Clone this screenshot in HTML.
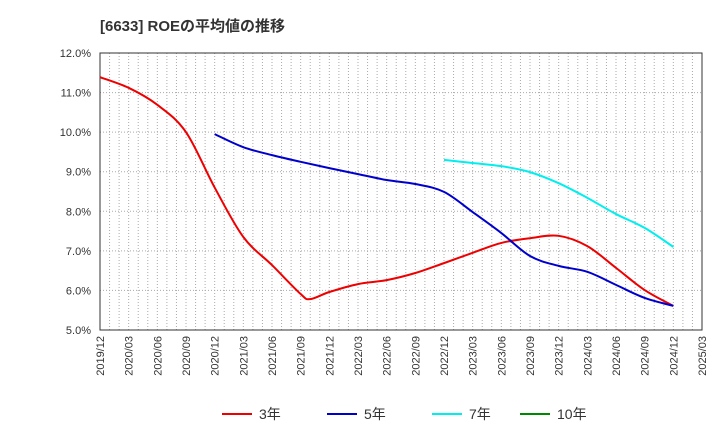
<!DOCTYPE html>
<html><head><meta charset="utf-8"><style>
body{margin:0;background:#fff;font-family:"Liberation Sans","Noto Sans CJK JP",sans-serif;}
</style></head><body>
<svg id="c" width="720" height="440" xmlns="http://www.w3.org/2000/svg">
<text x="100" y="31" font-size="15" font-weight="bold" fill="#333" font-family="Liberation Sans, Noto Sans CJK JP, sans-serif">[6633]  ROEの平均値の推移</text>
<g id="grid"></g><g id="axes"></g><g id="series"></g><g id="legend"></g>
</svg>
<script>
const xLabels=["2019/12","2020/03","2020/06","2020/09","2020/12","2021/03","2021/06","2021/09","2021/12","2022/03","2022/06","2022/09","2022/12","2023/03","2023/06","2023/09","2023/12","2024/03","2024/06","2024/09","2024/12","2025/03"];
const yTicks=[5,6,7,8,9,10,11,12];
const s3q=[0,1,2,3,4,5,6,7,7.33,8,9,10,11,12,13,14,15,16,17,18,19,20];
const s3=[11.39,11.12,10.69,10.0,8.6,7.35,6.64,5.91,5.78,5.96,6.16,6.26,6.44,6.69,6.95,7.20,7.32,7.38,7.12,6.57,6.01,5.61];
const s5q=[4,5,6,7,8,9,10,11,12,13,14,15,16,17,18,19,20];
const s5=[9.95,9.62,9.42,9.25,9.09,8.94,8.79,8.69,8.49,7.98,7.45,6.87,6.62,6.47,6.14,5.81,5.61];
const s7q=[12,13,14,15,16,17,18,19,20];
const s7=[9.30,9.22,9.14,8.99,8.71,8.34,7.93,7.58,7.10];
const x0=100,x1=702,y0=330,y1=53;
const X=q=>x0+q*(x1-x0)/21, Y=v=>y0-(v-5)*(y0-y1)/7;
const NS="http://www.w3.org/2000/svg";
function mk(t,a,p){const e=document.createElementNS(NS,t);for(const k in a)e.setAttribute(k,a[k]);p.appendChild(e);return e;}
const g=document.getElementById('grid'),ax=document.getElementById('axes'),sg=document.getElementById('series'),lg=document.getElementById('legend');
for(let m=1;m<63;m++){const x=X(m/3);const l=mk('line',{x1:x,x2:x,y1:y1,y2:y0,stroke:'#aaa','stroke-dasharray':'1,2','stroke-width':1},g);}
yTicks.forEach(v=>{const y=Y(v);const l=mk('line',{x1:x0,x2:x1,y1:y,y2:y,stroke:'#aaa','stroke-dasharray':'1,2'},g);
const t=mk('text',{x:91,y:y+4,'text-anchor':'end','font-size':11,fill:'#333'},ax);t.textContent=v.toFixed(1)+'%';});
const fr=mk('rect',{x:x0,y:y1,width:x1-x0,height:y0-y1,fill:'none',stroke:'#333'},ax);
xLabels.forEach((s,i)=>{const x=X(i);const t=mk('text',{x:0,y:0,'text-anchor':'end','font-size':11,fill:'#333',transform:`translate(${x+4},${y0+6}) rotate(-90)`},ax);t.textContent=s;});
function path(qs,vs){const p=qs.map((q,i)=>[X(q),Y(vs[i])]);let d=`M${p[0][0]},${p[0][1]}`;for(let i=0;i<p.length-1;i++){const a=p[i-1]||p[i],b=p[i],c=p[i+1],e=p[i+2]||c;d+=` C${b[0]+(c[0]-a[0])/6},${b[1]+(c[1]-a[1])/6} ${c[0]-(e[0]-b[0])/6},${c[1]-(e[1]-b[1])/6} ${c[0]},${c[1]}`;}return d;}
[[s3q,s3,'#e00','series-3y'],[s5q,s5,'#00c','series-5y'],[s7q,s7,'#0ee','series-7y']].forEach(([q,v,c,n])=>{const p=mk('path',{d:path(q,v),fill:'none',stroke:c,'stroke-width':2},sg);});
[['3年','#e00',222],['5年','#00c',327],['7年','#0ee',432],['10年','#080',520]].forEach(([s,c,x])=>{const l=mk('line',{x1:x,x2:x+30,y1:414,y2:414,stroke:c,'stroke-width':2},lg);const t=mk('text',{x:x+37,y:419,'font-size':14,fill:'#333'},lg);t.textContent=s;});
</script>
</body></html>
